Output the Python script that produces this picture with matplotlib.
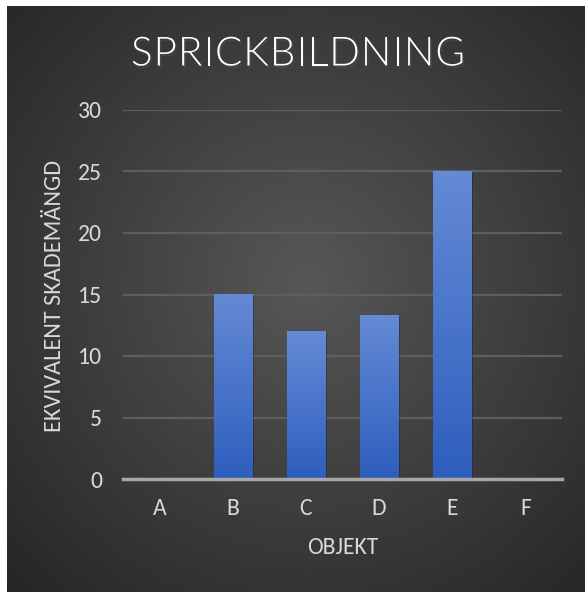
import numpy as np
import matplotlib.pyplot as plt
import matplotlib.patheffects as pe

# data
kategorier = ['A', 'B', 'C', 'D', 'E', 'F']
varden = [0, 15, 12, 13.3, 25, 0]
y_ticks = [0, 5, 10, 15, 20, 25, 30]
titel = 'SPRICKBILDNING'

fnt = ['Carlito', 'DejaVu Sans']
txt_col = '#d9d9d9'
W, H = 585, 592

fig = plt.figure(figsize=(W / 100, H / 100), dpi=100)
fig.patch.set_facecolor('white')

# dark radial background
bg = fig.add_axes([7 / W, 0, 578 / W, 586 / H])
bg.set_axis_off()
yy, xx = np.mgrid[0:1:300j, 0:1:300j]
r = np.sqrt((xx - 0.52) ** 2 + (yy - 0.47) ** 2)
r = np.clip(r / 0.75, 0, 1)
c0 = np.array([0x57, 0x57, 0x57]) / 255
c1 = np.array([0x25, 0x25, 0x25]) / 255
img = c0[None, None, :] * (1 - r[..., None]) + c1[None, None, :] * r[..., None]
bg.imshow(img, extent=[0, 1, 0, 1], aspect='auto', origin='upper')
bg.set_xlim(0, 1)
bg.set_ylim(0, 1)

ax = fig.add_axes([123 / W, 1 - 479 / H, 439 / W, 369 / H])
ax.patch.set_alpha(0)
x = np.arange(len(kategorier))
bars = ax.bar(x, varden, width=0.52, color='none', zorder=3)

# gradient fill for each bar
grad = np.linspace(0, 1, 100)[:, None]
top = np.array([0x64, 0x8a, 0xd5]) / 255
bot = np.array([0x2e, 0x5e, 0xbd]) / 255
gimg = top[None, None, :] * (1 - grad[..., None]) + bot[None, None, :] * grad[..., None]
for b, v in zip(bars, varden):
    if v <= 0:
        continue
    x0 = b.get_x()
    w = b.get_width()
    # soft shadow
    ax.bar(x0 + w / 2 + 0.025, v, width=w, bottom=-0.12, color='black',
           alpha=0.22, zorder=2)
    im = ax.imshow(gimg, extent=[x0, x0 + w, 0, v], aspect='auto',
                   origin='upper', zorder=3)
    im.set_clip_path(b)

ax.set_xlim(-0.5, 5.5)
ax.set_ylim(0, 30)
ax.set_yticks(y_ticks)
ax.set_xticks(x)
ax.set_xticklabels(kategorier)
ax.grid(axis='y', color='#5e5e5e', linewidth=1.6, zorder=1)
ax.set_axisbelow(True)
for s in ['top', 'right', 'left']:
    ax.spines[s].set_visible(False)
ax.spines['bottom'].set_color('#a6a6a6')
ax.spines['bottom'].set_linewidth(2.5)
ax.spines['bottom'].set_zorder(4)
ax.tick_params(length=0, colors=txt_col, labelsize=17)
ax.tick_params(axis='y', pad=15)
ax.tick_params(axis='x', pad=14)
for lab in ax.get_xticklabels() + ax.get_yticklabels():
    lab.set_family(fnt)

fig.text(342.5 / W, 1 - 548 / H, 'OBJEKT', ha='center', va='center',
         color=txt_col, fontsize=17, family=fnt)
fig.text(55 / W, 1 - 296 / H, 'EKVIVALENT SKADEMÄNGD', ha='center',
         va='center', rotation=90, color=txt_col, fontsize=17.5, family=fnt)

# title, light weight with letter spacing to fill ~334 px
renderer = fig.canvas.get_renderer()
fs = 29
tfnt = ['Lato', 'Carlito', 'DejaVu Sans']
widths = []
for ch in titel:
    t = fig.text(0, 0, ch, fontsize=fs, family=tfnt, fontweight=300)
    widths.append(t.get_window_extent(renderer).width)
    t.remove()
spacing = max(0.0, (334 - sum(widths)) / (len(titel) - 1))
total = sum(widths) + spacing * (len(titel) - 1)
xpos = 298 - total / 2
for ch, wch in zip(titel, widths):
    fig.text(xpos / W, 1 - 51 / H, ch, ha='left', va='center_baseline',
             color='white', fontsize=fs, family=tfnt, fontweight=300,
             path_effects=[pe.withSimplePatchShadow(offset=(1.2, -1.8),
                                                    alpha=0.6)])
    xpos += wch + spacing

plt.savefig('out.png', dpi=100, facecolor=fig.get_facecolor())
